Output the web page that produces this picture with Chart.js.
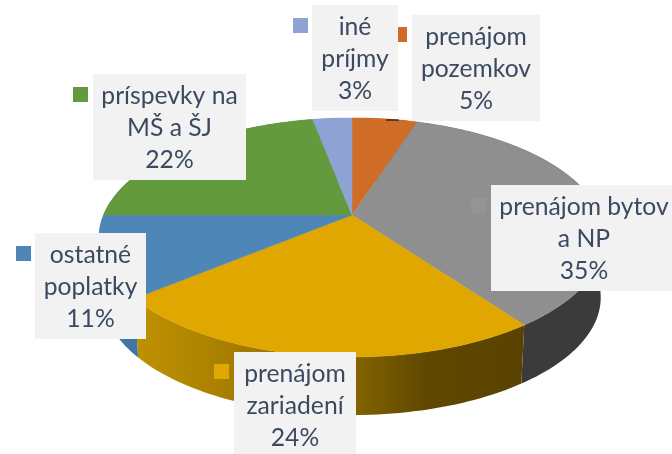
<!DOCTYPE html>
<html lang="sk">
<head>
<meta charset="utf-8">
<title>Príjmy</title>
<style>
    html, body { margin: 0; padding: 0; background: #fff; overflow: hidden; }
    canvas { display: block; }
</style>
<script src="https://cdn.jsdelivr.net/npm/chart.js"></script>
</head>
<body>
<canvas id="pie-chart" width="672" height="454"></canvas>
<script>
const categories = ['prenájom pozemkov', 'prenájom bytov a NP', 'prenájom zariadení', 'ostatné poplatky', 'príspevky na MŠ a ŠJ', 'iné príjmy'];
const shares = [5, 35, 24, 11, 22, 3];
const labelLines = [
    ['prenájom', 'pozemkov'],
    ['prenájom bytov', 'a NP'],
    ['prenájom', 'zariadení'],
    ['ostatné', 'poplatky'],
    ['príspevky na', 'MŠ a ŠJ'],
    ['iné', 'príjmy']
];

const topColors = ['#cf6c28', '#8f8f8f', '#dfa700', '#4f86b8', '#629a3d', '#8fa2d4'];
const swatchColors = ['#d06c28', '#949494', '#dfa800', '#4e86b8', '#629a3d', '#8fa2d4'];
const sideColors = [
    ['#7d4115', '#7d4115'],
    ['#3b3b3b', '#3b3b3b'],
    ['#c09200', '#a67d00', '#8f6c00', '#5f4700', '#5a4300'],
    ['#3f76a3', '#3f76a3'],
    ['#3e6326', '#3e6326'],
    ['#5a6a96', '#5a6a96']
];

// [left, top, right, bottom] of each label box, then the swatch's left and top
const labelBoxes = [
    [412, 15, 540, 121, 392, 27],
    [491, 185, 677, 291, 471, 198],
    [234, 352, 356, 458, 214, 364],
    [35, 233, 146, 339, 16, 246],
    [93, 74, 246, 180, 73, 87],
    [312, 5, 398, 111, 293, 18]
];

// the pie is seen in perspective, so a slice's angles go through this projection
const tilt = { x: 352, y: 215, a: 248.5, b: 115.3, k: 0.188 };
const base = { x: 352, y: 275.5, a: 244.3, b: 113.3, k: 0.188 };

const project = (p, angle) => {
    const x = Math.cos(angle), y = Math.sin(angle);
    const w = 1 - p.k * y;
    return [p.x + p.a * x / w, p.y + p.b * y / w];
};

const traceRim = (ctx, p, from, to) => {
    const steps = Math.max(2, Math.ceil(Math.abs(to - from) * 40));
    for (let i = 0; i <= steps; i++) {
        const pt = project(p, from + (to - from) * i / steps);
        ctx.lineTo(pt[0], pt[1]);
    }
};

class TiltedPieController extends Chart.PieController {
    draw() {
        const ctx = this.chart.ctx;
        const arcs = this._cachedMeta.data;

        arcs.forEach((arc, i) => {
            const from = arc.startAngle, to = arc.endAngle;
            const x0 = project(tilt, from)[0], x1 = project(tilt, to)[0];
            const stops = sideColors[i];
            const grad = ctx.createLinearGradient(Math.min(x0, x1), 0, Math.max(x0, x1) + 1, 0);
            stops.forEach((c, n) => grad.addColorStop(n / (stops.length - 1), c));
            ctx.beginPath();
            traceRim(ctx, tilt, from, to);
            traceRim(ctx, base, to, from);
            ctx.closePath();
            ctx.fillStyle = grad;
            ctx.fill();
        });

        arcs.forEach((arc, i) => {
            ctx.beginPath();
            ctx.moveTo(tilt.x, tilt.y);
            traceRim(ctx, tilt, arc.startAngle, arc.endAngle);
            ctx.closePath();
            ctx.fillStyle = topColors[i];
            ctx.strokeStyle = topColors[i];
            ctx.lineWidth = 0.5;
            ctx.fill();
            ctx.stroke();
        });
    }
}
TiltedPieController.id = 'tiltedPie';
Chart.register(TiltedPieController);

const labelPlugin = {
    id: 'boxLabels',
    afterDraw(chart) {
        const ctx = chart.ctx;
        ctx.save();

        // leader stub left by the small slice
        ctx.fillStyle = '#000';
        ctx.fillRect(386, 119.5, 13, 1);

        labelBoxes.forEach((box, i) => {
            ctx.fillStyle = swatchColors[i];
            ctx.fillRect(box[4], box[5], 15, 15);
        });

        ctx.font = '24.7px Lato';
        ctx.textAlign = 'center';
        ctx.textBaseline = 'alphabetic';
        labelBoxes.forEach((box, i) => {
            ctx.fillStyle = '#f2f2f2';
            ctx.fillRect(box[0], box[1], box[2] - box[0], box[3] - box[1]);
            const cx = (box[0] + box[2]) / 2;
            const lines = labelLines[i].concat(shares[i] + '%');
            ctx.fillStyle = '#3b4a60';
            lines.forEach((line, n) => {
                ctx.fillText(line, cx, box[1] + 30 + n * 32);
            });
        });
        ctx.restore();
    }
};

new Chart(document.getElementById('pie-chart'), {
    type: 'tiltedPie',
    data: {
        labels: categories,
        datasets: [{ data: shares, backgroundColor: topColors, borderWidth: 0 }]
    },
    options: {
        responsive: false,
        animation: false,
        plugins: {
            legend: { display: false },
            tooltip: { enabled: false }
        }
    },
    plugins: [labelPlugin]
});
</script>
</body>
</html>
